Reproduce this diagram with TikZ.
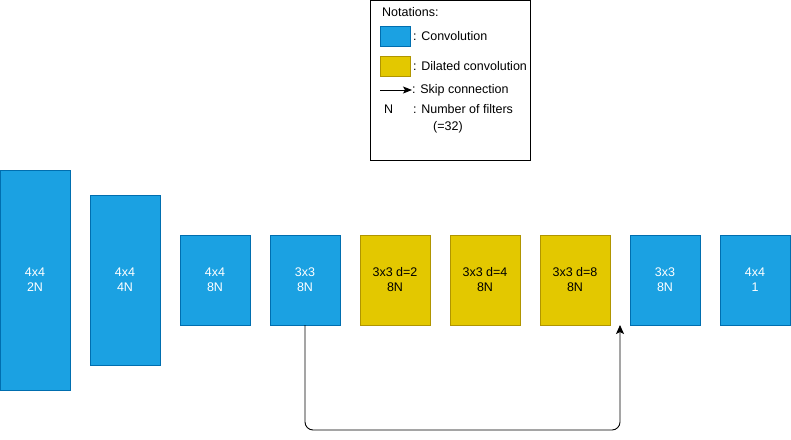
\documentclass[tikz,border=0pt]{standalone}
\usepackage{fontspec}
\setmainfont{Liberation Sans}
\usetikzlibrary{
    positioning,  % Relative positioning
    arrows.meta,  % Modern arrow tips
    calc          % Coordinate calculations
}
\definecolor{convfill}{HTML}{1BA1E2}
\definecolor{convline}{HTML}{006EAF}
\definecolor{dilfill}{HTML}{E3C800}
\definecolor{dilline}{HTML}{B09500}
\tikzset{
    layer/.style={draw, line width=0.9pt, inner sep=0pt, outer sep=0pt,
        minimum width=70pt, align=center, font=\fontsize{12.5}{15}\selectfont},
    conv/.style={layer, fill=convfill, draw=convline, text=white},
    dilconv/.style={layer, fill=dilfill, draw=dilline, text=black, minimum height=90pt},
    legtext/.style={anchor=west, inner sep=0pt, font=\fontsize{12.5}{14}\selectfont},
    skip/.style={-{Stealth[length=9pt,width=8pt,inset=2pt]}, line width=0.9pt, rounded corners=8pt}
}

\begin{document}
\begin{tikzpicture}[x=1pt, y=-1pt]
    \useasboundingbox (0,0) rectangle (791,439);

    % notations
    \node[draw, line width=0.9pt, minimum width=160pt, minimum height=160pt,
        inner sep=0pt] (legend) at (450,80) {};
    \node[legtext] (nottitle) at (382,12) {Notations:};
    \node[conv, minimum width=30pt, minimum height=20pt] (legconv) at (395,36) {};
    \node[legtext] (legconvtext) at (413,36) {: Convolution};
    \node[dilconv, minimum width=30pt, minimum height=20pt] (legdil) at (395,66) {};
    \node[legtext] (legdiltext) at (413,66) {: Dilated convolution};
    \coordinate (legskipa) at (380,90);
    \coordinate (legskipb) at (412,90);
    \draw[-{Stealth[length=9pt,width=7pt,inset=2pt]}, line width=0.9pt] (legskipa) -- (legskipb);
    \node[legtext] (legskiptext) at (412,90) {: Skip connection};
    \node[legtext] (legn) at (384,109) {N};
    \node[legtext] (legntext) at (413,109) {: Number of filters};
    \node[legtext] (legnval) at (433,127) {(=32)};

    % layers
    \node[conv, minimum height=220pt] (c1) at (35,280) {4x4\\2N};
    \node[conv, minimum height=170pt, right=20pt of c1] (c2) {4x4\\4N};
    \node[conv, minimum height=90pt, right=20pt of c2] (c3) {4x4\\8N};
    \node[conv, minimum height=90pt, right=20pt of c3] (c4) {3x3\\8N};
    \node[dilconv, right=20pt of c4] (d1) {3x3 d=2\\8N};
    \node[dilconv, right=20pt of d1] (d2) {3x3 d=4\\8N};
    \node[dilconv, right=20pt of d2] (d3) {3x3 d=8\\8N};
    \node[conv, minimum height=90pt, right=20pt of d3] (c5) {3x3\\8N};
    \node[conv, minimum height=90pt, right=20pt of c5] (c6) {4x4\\1};

    % skip connection
    \coordinate (skipend) at ($(d3.south east)!0.5!(c5.south west)$);
    \draw[skip] (c4.south) -- ++(0,105) -| (skipend);
\end{tikzpicture}
\end{document}
